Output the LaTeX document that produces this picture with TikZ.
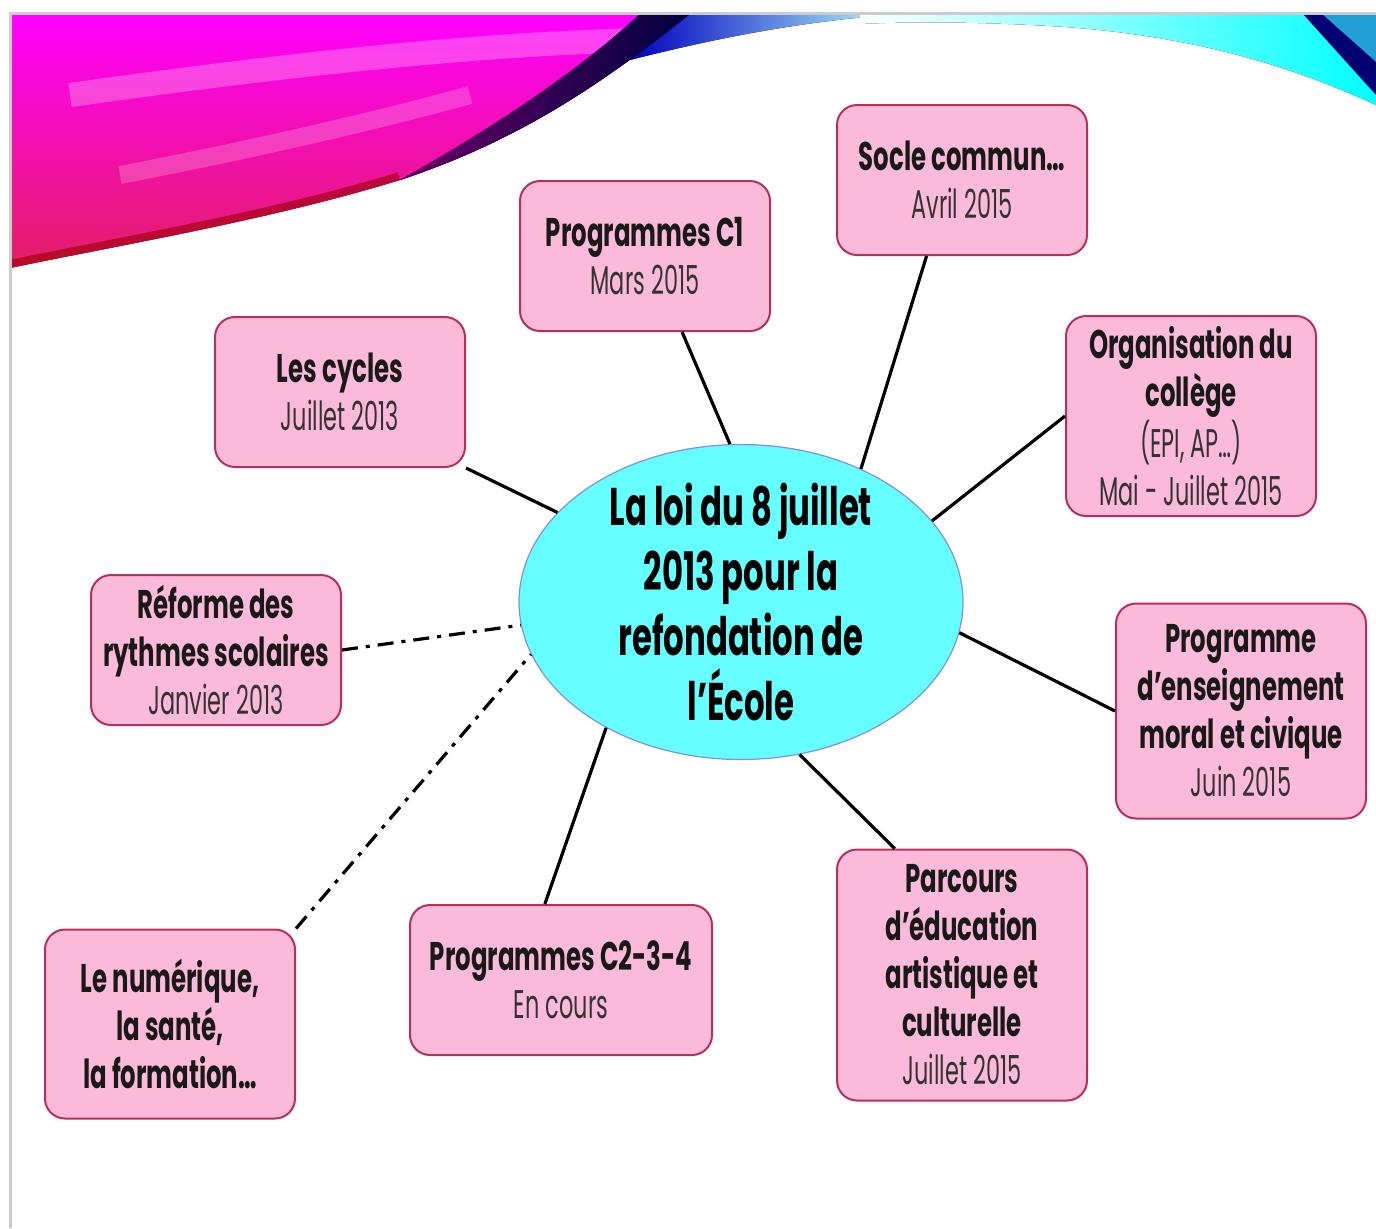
\documentclass[tikz,border=0pt]{standalone}
\usepackage{fontspec}
\setmainfont{Poppins}[FakeStretch=0.56,BoldFeatures={FakeStretch=0.61}]
\usetikzlibrary{shapes.geometric}
\definecolor{cardpink}{HTML}{FBBAD9}
\definecolor{cardedge}{HTML}{B8305A}
\definecolor{hubcyan}{HTML}{66FFFF}
\definecolor{hubedge}{HTML}{7F8FE8}
\newcommand{\datum}[1]{{\mdseries\color{black!80}#1}}

\begin{document}
\begin{tikzpicture}
                        [
                            x=0.5pt, y=-0.5pt,
                            card/.style = {draw=cardedge, fill=cardpink, shape=rectangle, rounded corners=10pt, minimum width=125pt, minimum height=75pt, inner sep=2pt, line width=1pt, align=center, text=black!90, font=\fontsize{20}{24}\selectfont\bfseries},
                            hub/.style = {draw=hubedge, fill=hubcyan, shape=ellipse, minimum width=222pt, minimum height=157.5pt, inner sep=-10pt, line width=0.6pt, align=center, font=\fontsize{26.5}{32.5}\selectfont\bfseries},
                            link/.style = {line width=1.6pt},
                            loose/.style = {line width=1.6pt, dash pattern=on 8pt off 4pt on 2pt off 4pt},
                        ]

                        \useasboundingbox (0,0) rectangle (1376,1228);

                        % slide decoration
                        \begin{scope}
                        \fill[top color=magenta, bottom color={rgb,255:red,228;green,30;blue,100}] (10,14) -- (690,14) .. controls (600,85) and (520,140) .. (400,180) .. controls (270,220) and (120,245) .. (10,268) -- cycle;
                        \clip (10,14) -- (690,14) .. controls (600,85) and (520,140) .. (400,180) .. controls (270,220) and (120,245) .. (10,268) -- cycle;
                        \draw[white, opacity=0.25, line width=12pt] (70,95) .. controls (250,70) and (450,45) .. (640,40);
                        \draw[white, opacity=0.2, line width=9pt] (120,175) .. controls (250,150) and (380,120) .. (470,95);
                        \draw[red!60!black, opacity=0.6, line width=8pt] (400,180) .. controls (270,220) and (120,245) .. (10,268);
                        \end{scope}
                        \fill[left color=blue!75!black, right color=cyan!30] (660,14) -- (900,14) .. controls (820,20) and (740,32) .. (630,60) -- cycle;
                        \fill[left color=violet!80!black, right color=blue!25!black] (690,14) .. controls (600,85) and (520,140) .. (400,180) .. controls (490,130) and (580,70) .. (640,14) -- cycle;
                        \fill[left color=white, right color=cyan] (860,14) -- (1376,14) -- (1376,105) .. controls (1300,70) and (1200,35) .. (1050,26) .. controls (960,21) and (900,22) .. (860,24) -- cycle;
                        \fill[cyan!70!teal] (1322,14) -- (1376,14) -- (1376,62) -- cycle;
                        \fill[blue!45!black] (1303,14) -- (1322,14) -- (1376,62) -- (1376,95) -- cycle;
                        \draw[gray!40, line width=1.5pt] (10,1228) -- (10,13) -- (1376,13);

                        \node[hub] (loi) at (741,602) {La loi du 8 juillet\\2013 pour la\\refondation de\\l’École};

                        \node[card] (socle) at (962,180) {Socle commun…\\\datum{Avril 2015}};
                        \node[card] (c1) at (645,256) {Programmes C1\\\datum{Mars 2015}};
                        \node[card] (cycles) at (340,392) {Les cycles\\\datum{Juillet 2013}};
                        \node[card, minimum height=100pt] (org) at (1191,416) {Organisation du\\collège\\\datum{(EPI, AP…)}\\\datum{Mai - Juillet 2015}};
                        \node[card] (reforme) at (216,650) {Réforme des\\rythmes scolaires\\\datum{Janvier 2013}};
                        \node[card, minimum height=107.5pt] (moral) at (1241,711) {Programme\\d’enseignement\\moral et civique\\\datum{Juin 2015}};
                        \node[card, minimum height=94.5pt] (num) at (170,1024) {Le numérique,\\la santé,\\la formation…};
                        \node[card, minimum width=151pt] (c234) at (561,980) {Programmes C2-3-4\\\datum{En cours}};
                        \node[card, minimum height=125.5pt] (parcours) at (962,975) {Parcours\\d’éducation\\artistique et\\culturelle\\\datum{Juillet 2015}};

                        \draw [link] (cycles.south east) -- (loi.154);
                        \draw [link] (c1.-64) -- (loi.94);
                        \draw [link] (socle.-115) -- (loi.48);
                        \draw [link] (org.west) -- (loi.23);
                        \draw [link] (moral.west) -- (loi.-8);
                        \draw [link] (parcours.118) -- (loi.-69);
                        \draw [link] (c234.102) -- (loi.223);
                        \draw [loose] (reforme.east) -- (loi.186);
                        \draw [loose] (num.north east) -- (loi.194);

                    \end{tikzpicture}
\end{document}
